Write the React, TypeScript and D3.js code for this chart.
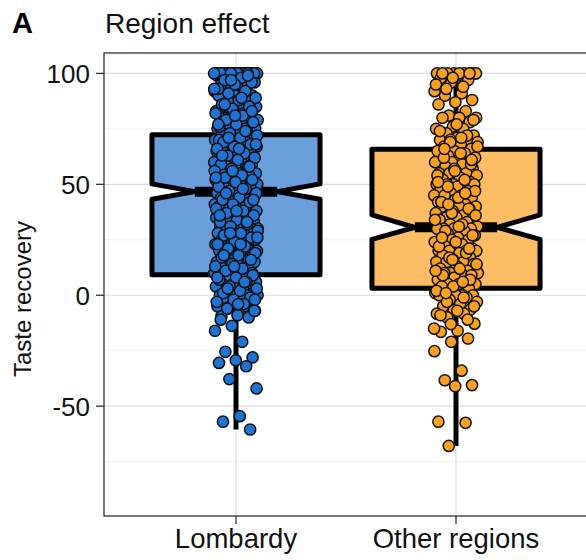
import React from "react";
import * as d3 from "d3";

// categories and colours
const categories = ["Lombardy", "Other regions"];
const boxFills = ["#6b9fdc", "#fcbd65"];
const pointFills = ["#1f74d3", "#f7a11c"];

// box summaries
const lowerWhisker = [-60.5, -67.9];
const q1 = [9.2, 3.2];
const notchLow = [43.3, 25.2];
const median = [46.7, 30.6];
const notchHigh = [50.2, 36.2];
const q3 = [72.3, 65.8];
const upperWhisker = [100, 100];

// jittered observations (representative sample)
const lombardy = [
  100, 100, 100, 100, 100, 100, 100, 100, 100, 100, 100, 100, 100, 100, 100,
  99, 98, 97, 96, 95, 95, 95, 94, 92, 90, 90, 90, 90, 90, 88, 87,
  85, 85, 85, 85, 84, 83, 82, 80, 80, 80, 80, 80, 80, 79, 78, 77, 76,
  75, 75, 75, 75, 75, 74, 73, 72, 71, 70, 70, 70, 70, 70, 70, 69, 68, 67, 66,
  65, 65, 65, 65, 64, 63, 62, 61, 60, 60, 60, 60, 60, 60, 59, 58, 57, 56,
  55, 55, 55, 55, 54, 53, 52, 51, 50, 50, 50, 50, 50, 50, 50, 50, 49, 48, 47, 46,
  45, 45, 45, 45, 44, 43, 42, 41, 40, 40, 40, 40, 40, 40, 39, 38, 37, 36,
  35, 35, 35, 35, 34, 33, 32, 31, 30, 30, 30, 30, 30, 30, 29, 28, 27, 26,
  25, 25, 25, 25, 24, 23, 22, 21, 20, 20, 20, 20, 20, 20, 19, 18, 17, 16,
  15, 15, 15, 15, 14, 13, 12, 11, 10, 10, 10, 10, 10, 9, 8, 7, 6,
  5, 5, 5, 5, 4, 3, 2, 1, 0, 0, 0, 0, 0, 0, -1, -2, -3, -5, -5, -6, -7, -8, -9.5, -10,
  -13.8, -16, -21, -25.5, -28, -29.3, -30.5, -32, -37.8, -42, -54.5, -57, -60.5,
  100, 100, 100, 100, 100, 100, 100, 100, 100, 100,
  98, 97, 96, 95, 93, 92, 91, 89, 88, 86, 85, 84, 82, 81, 79, 78, 77, 76,
  74, 73, 72, 71, 69, 68, 67, 66, 64, 63, 62, 61, 59, 58, 57, 56,
  54, 53, 52, 51, 49, 48, 47, 46, 44, 43, 42, 41, 39, 38, 37, 36,
  34, 33, 32, 31, 29, 28, 27, 26, 24, 23, 22, 21, 19, 18, 17, 16,
  14, 13, 12, 11, 9, 8, 7, 6, 4, 3, 2, 1, -1, -2, -3, -4, -6, -7, -9, -11,
  99, 97, 93, 89, 86, 83, 81, 77, 74, 71, 68, 66, 63, 58, 56, 53,
  48, 46, 43, 38, 36, 33, 28, 26, 23, 18, 16, 13, 8, 6, 3, -2, -4,
];

const otherRegions = [
  100, 100, 100, 100, 100, 100, 99, 98, 97, 96, 92, 91, 90, 88, 87, 86, 83, 81, 80, 80, 80,
  78, 76, 75, 75, 73, 72, 71, 70, 70, 70, 69, 68, 67, 66, 65, 65, 64, 63, 62, 61,
  60, 60, 60, 60, 59, 58, 57, 56, 55, 55, 55, 54, 53, 52, 51, 50, 50, 50, 50, 50, 49, 48, 47, 46,
  45, 45, 45, 44, 43, 42, 41, 40, 40, 40, 40, 39, 38, 37, 36, 35, 35, 35, 34, 33, 32, 31,
  30, 30, 30, 30, 30, 29, 28, 27, 26, 25, 25, 25, 24, 23, 22, 21, 20, 20, 20, 20, 20, 19, 18, 17, 16,
  15, 15, 15, 14, 13, 12, 11, 10, 10, 10, 10, 9, 8, 7, 6, 5, 5, 5, 4, 3, 2, 1, 0, 0, 0, 0, 0,
  -1, -2, -3, -4, -5, -6.4, -6.8, -8.3, -8.3, -10, -12.8, -16, -16.5, -19.5, -21, -25.2,
  -34, -38.3, -40.5, -41, -57, -57.5, -67.9,
  100, 100, 100, 100, 98, 95, 94, 93,
  79, 77, 74, 72, 69, 67, 64, 62, 59, 57, 54, 52, 49, 47, 44, 42, 39, 37, 34, 32,
  29, 27, 24, 22, 19, 17, 14, 12, 9, 7, 4, 2, -1, -3, -5, -7, -9, -11, -13, -15,
  71, 66, 61, 56, 51, 46, 41, 36, 31, 26, 21, 16, 11, 6, 1,
];

const pointSets = [lombardy, otherRegions];

const yTicks = [100, 50, 0, -50];
const yMinorTicks = [75, 25, -25, -75];

const width = 586;
const height = 560;
const panel = { left: 104, top: 53, right: 588, bottom: 516 };
const font = "'Liberation Sans', Arial, Helvetica, sans-serif";

// deterministic horizontal spread for the jitter layer (integer hash, -0.5..0.5)
const spread = (i: number) => (Math.imul(i + 11, 2654435761) >>> 0) / 4294967296 - 0.5;

const App = () => {
  const x = d3
    .scalePoint<string>()
    .domain(categories)
    .range([panel.left, panel.right])
    .padding(0.6);

  const y = d3
    .scaleLinear()
    .domain([-99.5, 109.2])
    .range([panel.bottom, panel.top]);

  const step = x.step();
  const boxHalf = step * 0.382;
  const notchInset = boxHalf * 0.51;
  const jitterHalf = step * 0.1;

  const boxPath = (i: number) => {
    const cx = x(categories[i]) as number;
    const l = cx - boxHalf;
    const r = cx + boxHalf;
    const p = d3.path();
    p.moveTo(l, y(q3[i]));
    p.lineTo(r, y(q3[i]));
    p.lineTo(r, y(notchHigh[i]));
    p.lineTo(r - notchInset, y(median[i]));
    p.lineTo(r, y(notchLow[i]));
    p.lineTo(r, y(q1[i]));
    p.lineTo(l, y(q1[i]));
    p.lineTo(l, y(notchLow[i]));
    p.lineTo(l + notchInset, y(median[i]));
    p.lineTo(l, y(notchHigh[i]));
    p.closePath();
    return p.toString();
  };

  return (
    <svg
      width={width}
      height={height}
      style={{ position: "absolute", left: 0, top: 0 }}
      fontFamily={font}
    >
      <rect width={width} height={height} fill="#fff" />

      {/* grid */}
      <g>
        {yMinorTicks.map((t) => (
          <line
            key={"m" + t}
            x1={panel.left}
            x2={panel.right}
            y1={y(t)}
            y2={y(t)}
            stroke="#efefef"
            strokeWidth={1}
          />
        ))}
        {yTicks.map((t) => (
          <line
            key={"g" + t}
            x1={panel.left}
            x2={panel.right}
            y1={y(t)}
            y2={y(t)}
            stroke="#dcdcdc"
            strokeWidth={1.2}
          />
        ))}
        {categories.map((c) => (
          <line
            key={"v" + c}
            x1={x(c)}
            x2={x(c)}
            y1={panel.top}
            y2={panel.bottom}
            stroke="#dcdcdc"
            strokeWidth={1.2}
          />
        ))}
      </g>

      {/* boxes */}
      {categories.map((c, i) => {
        const cx = x(c) as number;
        return (
          <g key={"box" + c}>
            <line
              x1={cx}
              x2={cx}
              y1={y(q3[i])}
              y2={y(upperWhisker[i])}
              stroke="#000"
              strokeWidth={5}
            />
            <line
              x1={cx}
              x2={cx}
              y1={y(q1[i])}
              y2={y(lowerWhisker[i])}
              stroke="#000"
              strokeWidth={5}
            />
            <path
              d={boxPath(i)}
              fill={boxFills[i]}
              stroke="#000"
              strokeWidth={5}
              strokeLinejoin="round"
            />
            <line
              x1={cx - boxHalf + notchInset}
              x2={cx + boxHalf - notchInset}
              y1={y(median[i])}
              y2={y(median[i])}
              stroke="#000"
              strokeWidth={10}
            />
          </g>
        );
      })}

      {/* jittered points */}
      {pointSets.map((vals, i) => {
        const cx = x(categories[i]) as number;
        return (
          <g key={"pts" + i}>
            {vals.map((v, j) => (
              <circle
                key={j}
                cx={cx + spread(j + i * 1000) * 2 * jitterHalf}
                cy={y(v)}
                r={5.6}
                fill={pointFills[i]}
                stroke="#121212"
                strokeWidth={1.5}
              />
            ))}
          </g>
        );
      })}

      {/* panel border */}
      <rect
        x={panel.left}
        y={panel.top}
        width={panel.right - panel.left}
        height={panel.bottom - panel.top}
        fill="none"
        stroke="#333"
        strokeWidth={1.3}
      />

      {/* y axis */}
      {yTicks.map((t) => (
        <g key={"yt" + t}>
          <line x1={96} x2={panel.left} y1={y(t)} y2={y(t)} stroke="#333" strokeWidth={1.3} />
          <text
            x={90}
            y={y(t)}
            dy="0.36em"
            textAnchor="end"
            fontSize={26}
            fill="#111"
          >
            {t}
          </text>
        </g>
      ))}

      {/* x axis */}
      {categories.map((c) => (
        <g key={"xt" + c}>
          <line
            x1={x(c)}
            x2={x(c)}
            y1={panel.bottom}
            y2={panel.bottom + 8}
            stroke="#333"
            strokeWidth={1.3}
          />
          <text x={x(c)} y={548} textAnchor="middle" fontSize={27.5} fill="#111">
            {c}
          </text>
        </g>
      ))}

      <text
        transform="translate(31,299) rotate(-90)"
        textAnchor="middle"
        fontSize={24}
        fill="#111"
      >
        Taste recovery
      </text>

      <text x={12} y={33} fontSize={29} fontWeight="bold" fill="#000">
        A
      </text>
      <text x={105} y={33} fontSize={28} fill="#111">
        Region effect
      </text>
    </svg>
  );
};

export default App;
